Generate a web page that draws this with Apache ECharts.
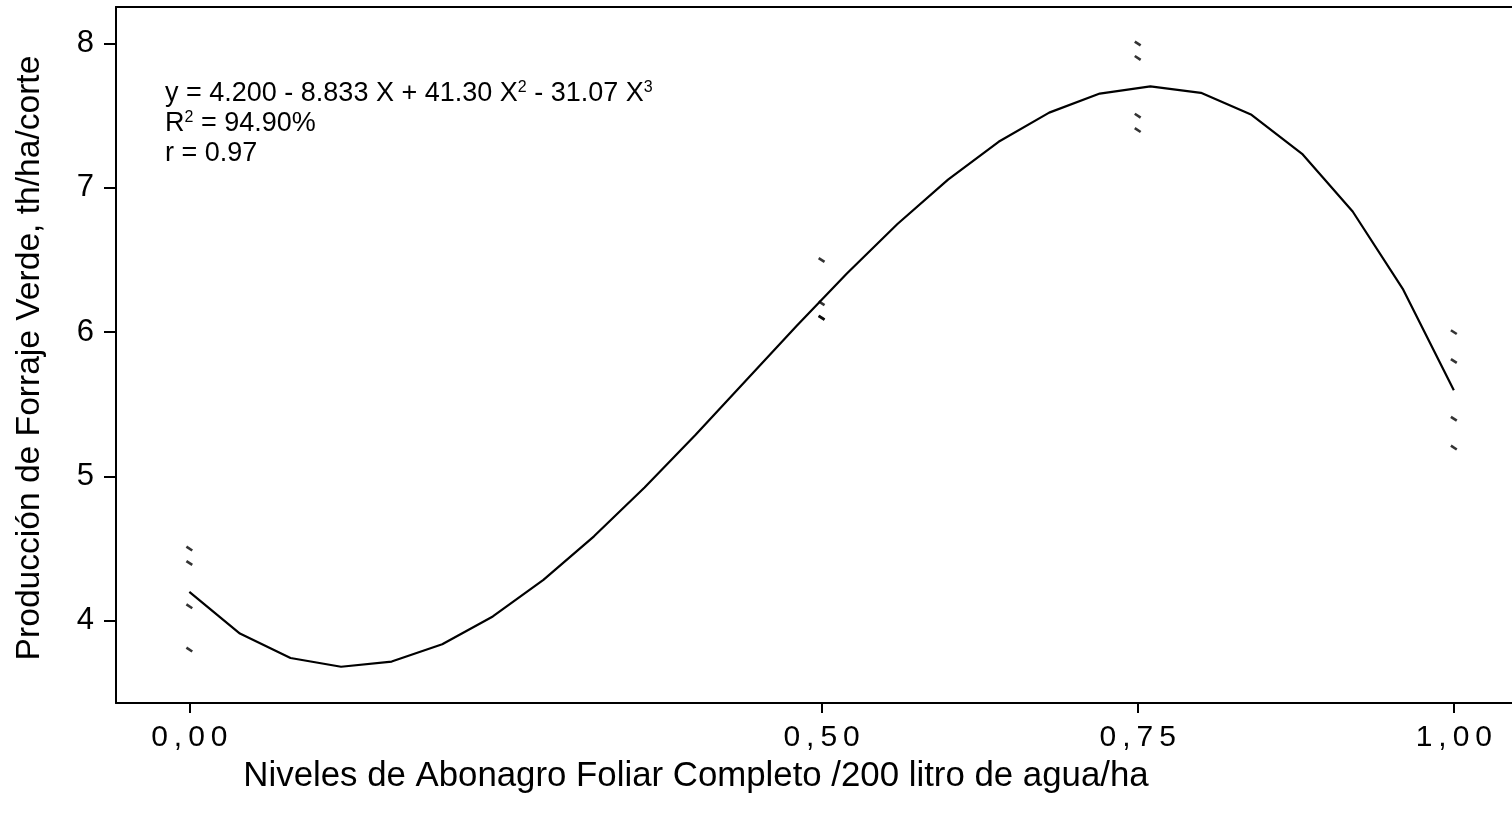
<!DOCTYPE html>
<html>
<head>
<meta charset="utf-8">
<script src="https://cdn.jsdelivr.net/npm/echarts@6/dist/echarts.min.js"></script>
<style>
html,body{margin:0;padding:0;background:#fff;}
#chart{width:1512px;height:819px;}
</style>
</head>
<body>
<div id="chart"></div>
<script>
// Observed points (4 replicates per level)
const obsX = [0, 0, 0, 0, 0.5, 0.5, 0.5, 0.5, 0.75, 0.75, 0.75, 0.75, 1, 1, 1, 1];
const obsY = [4.5, 4.4, 4.1, 3.8, 6.5, 6.2, 6.1, 6.1, 8.0, 7.9, 7.5, 7.4, 6.0, 5.8, 5.4, 5.2];

// Fitted curve, read along the polyline
const fitX = [0, 0.04, 0.08, 0.12, 0.16, 0.20, 0.24, 0.28, 0.32, 0.36, 0.40, 0.44, 0.48,
              0.52, 0.56, 0.60, 0.64, 0.68, 0.72, 0.76, 0.80, 0.84, 0.88, 0.92, 0.96, 1.00];
const fitY = [4.200, 3.911, 3.742, 3.681, 3.717, 3.837, 4.030, 4.283, 4.585, 4.923, 5.286, 5.663, 6.040,
              6.406, 6.749, 7.057, 7.319, 7.521, 7.653, 7.703, 7.658, 7.506, 7.236, 6.836, 6.294, 5.597];

const xTicks = [0, 0.5, 0.75, 1];
const xTickLabels = ['0,00', '0,50', '0,75', '1,00'];
const yTicks = [4, 5, 6, 7, 8];
const yTickLabels = ['4', '5', '6', '7', '8'];

const xTitle = 'Niveles de Abonagro Foliar Completo /200 litro de agua/ha';
const yTitle = 'Producción de Forraje Verde, th/ha/corte';
const eqLine1a = 'y = 4.200 - 8.833 X + 41.30 X';
const eqLine1b = ' - 31.07 X';
const eqLine2a = 'R';
const eqLine2b = ' = 94.90%';
const eqLine3 = 'r = 0.97';

const FONT = '"Liberation Sans", Arial, sans-serif';

const scatterData = obsX.map((x, i) => [x, obsY[i]]);
const lineData = fitX.map((x, i) => [x, fitY[i]]);

function spaced(s) { return s.split('').join('\u2009'); }

const chart = echarts.init(document.getElementById('chart'), null, {renderer: 'canvas'});
const eqRich = {
  n: {fontFamily: FONT, fontSize: 27, color: '#000'},
  s: {fontFamily: FONT, fontSize: 16, color: '#000', verticalAlign: 'top', padding: [0, 0, 13, 0]}
};
chart.setOption({
  animation: false,
  backgroundColor: '#fff',
  grid: {left: 116, top: 7, right: 0, bottom: 116, containLabel: false},
  xAxis: [{
    type: 'value', position: 'bottom', min: -0.058, max: 1.046,
    axisLine: {show: true, onZero: false, lineStyle: {color: '#000', width: 2}},
    axisTick: {show: true, customValues: xTicks, length: 10, lineStyle: {color: '#000', width: 2}},
    axisLabel: {show: true, customValues: xTicks, margin: 20, fontFamily: FONT, fontSize: 30, color: '#000',
      formatter: v => { const i = xTicks.findIndex(t => Math.abs(t - v) < 1e-9); return i >= 0 ? spaced(xTickLabels[i]) : ''; }},
    splitLine: {show: false}
  }, {
    type: 'value', position: 'top', min: -0.058, max: 1.046,
    axisLine: {show: true, onZero: false, lineStyle: {color: '#000', width: 2.2}},
    axisTick: {show: false}, axisLabel: {show: false}, splitLine: {show: false}
  }],
  yAxis: {
    type: 'value', min: 3.43, max: 8.253,
    axisLine: {show: true, onZero: false, lineStyle: {color: '#000', width: 2}},
    axisTick: {show: true, customValues: yTicks, length: 12, lineStyle: {color: '#000', width: 2}},
    axisLabel: {show: true, customValues: yTicks, margin: 22, fontFamily: FONT, fontSize: 31, color: '#000',
      formatter: v => { const i = yTicks.indexOf(Math.round(v)); return i >= 0 ? yTickLabels[i] : ''; }},
    splitLine: {show: false}
  },
  series: [{
    type: 'line', data: lineData, symbol: 'none', showSymbol: false, smooth: false,
    lineStyle: {color: '#000', width: 2.2}, z: 2
  }, {
    type: 'scatter', data: scatterData, symbol: 'rect', symbolSize: [7, 2.6], symbolRotate: -33,
    itemStyle: {color: '#000'}, z: 3
  }],
  graphic: [{
    type: 'text', x: 696, y: 776,
    style: {text: xTitle, fontFamily: FONT, fontSize: 34.8, fill: '#000', textAlign: 'center', textVerticalAlign: 'middle'}
  }, {
    type: 'text', x: 30, y: 358, rotation: Math.PI / 2,
    style: {text: yTitle, fontFamily: FONT, fontSize: 33.6, fill: '#000', textAlign: 'center', textVerticalAlign: 'middle'}
  }, {
    type: 'text', x: 165, y: 94,
    style: {text: '{n|' + eqLine1a + '}{s|2}{n|' + eqLine1b + '}{s|3}', rich: eqRich, textVerticalAlign: 'middle', textAlign: 'left'}
  }, {
    type: 'text', x: 165, y: 124,
    style: {text: '{n|' + eqLine2a + '}{s|2}{n|' + eqLine2b + '}', rich: eqRich, textVerticalAlign: 'middle', textAlign: 'left'}
  }, {
    type: 'text', x: 165, y: 154,
    style: {text: '{n|' + eqLine3 + '}', rich: eqRich, textVerticalAlign: 'middle', textAlign: 'left'}
  }]
});
</script>
</body>
</html>
